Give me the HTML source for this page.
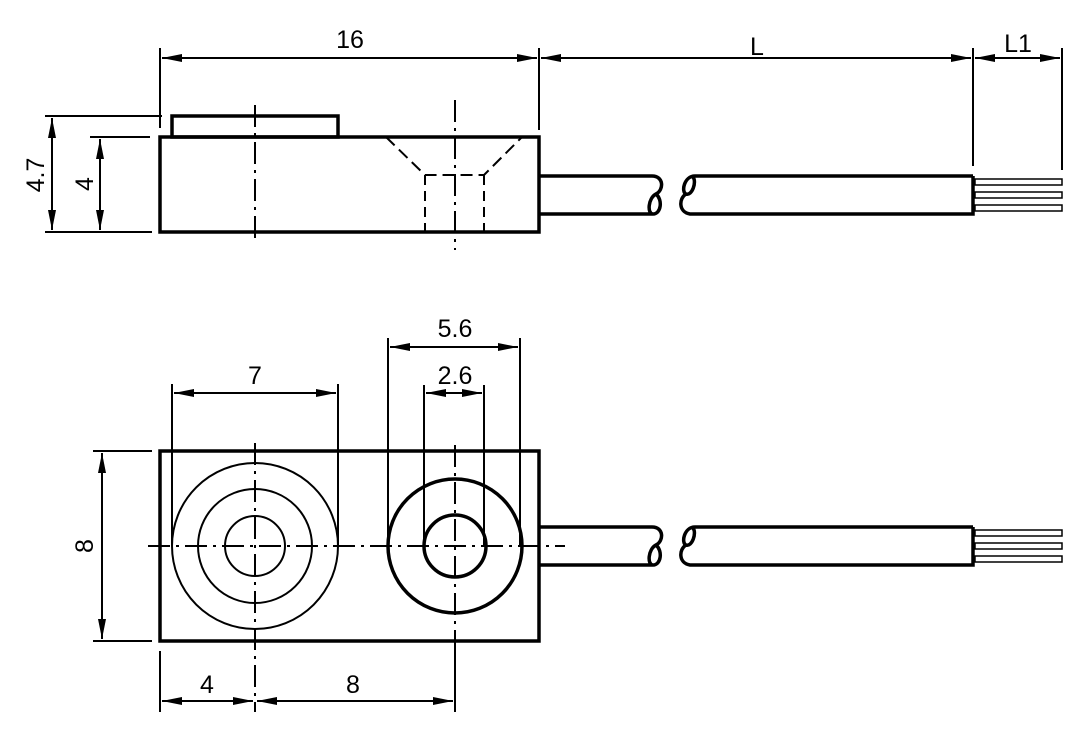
<!DOCTYPE html>
<html><head><style>
html,body{margin:0;padding:0;background:#fff;}
svg{display:block;}
text{font-family:"Liberation Sans",sans-serif;font-size:25px;fill:#000;}
</style></head><body>
<svg width="1086" height="736" viewBox="0 0 1086 736" xmlns="http://www.w3.org/2000/svg">
<defs>
<marker id="a" viewBox="0 0 20 8" refX="20" refY="4" markerWidth="20" markerHeight="8" markerUnits="userSpaceOnUse" orient="auto-start-reverse">
<path d="M0,0 L20,4 L0,8 Z" fill="#000"/></marker>
</defs>
<g fill="none" stroke="#000">
<!-- TOP VIEW -->
<g stroke-width="2">
<line x1="160" y1="48" x2="160" y2="128"/>
<line x1="539" y1="48" x2="539" y2="130"/>
<line x1="973" y1="48" x2="973" y2="166"/>
<line x1="1062" y1="48" x2="1062" y2="170"/>
<line x1="162" y1="58" x2="537" y2="58" marker-start="url(#a)" marker-end="url(#a)"/>
<line x1="541" y1="58" x2="971" y2="58" marker-start="url(#a)" marker-end="url(#a)"/>
<line x1="975" y1="58" x2="1060" y2="58" marker-start="url(#a)" marker-end="url(#a)"/>
<line x1="45" y1="116" x2="162" y2="116"/>
<line x1="45" y1="232" x2="152" y2="232"/>
<line x1="90" y1="137" x2="150" y2="137"/>
<line x1="52" y1="118" x2="52" y2="230" marker-start="url(#a)" marker-end="url(#a)"/>
<line x1="100" y1="139" x2="100" y2="230" marker-start="url(#a)" marker-end="url(#a)"/>
<line x1="255" y1="105" x2="255" y2="240" stroke-dasharray="22,6,3,6"/>
<line x1="455" y1="100" x2="455" y2="250" stroke-dasharray="22,6,3,6"/>
<path d="M386,137 L425,175 L484,175 L522,137" stroke-dasharray="12,6"/>
<line x1="425" y1="175" x2="425" y2="232" stroke-dasharray="10,6"/>
<line x1="484" y1="175" x2="484" y2="232" stroke-dasharray="10,6"/>
</g>
<g stroke-width="3.5">
<rect x="172" y="116" width="166" height="21"/>
<rect x="160" y="137" width="379" height="95"/>
<path d="M539,176 L652,176 C664,176 664,190 656,194 C648,198 647,214 653,214 C661,214 663,200 656,194 M539,214 L653,214"/>
<path d="M973,176 L695,176 C684,176 681,192 686,194 C692,196 697,182 693,177 M686,194 C679,198 678,212 690,214 L973,214 L973,176"/>
</g>
<g stroke-width="1.5">
<rect x="975" y="179" width="87" height="6"/>
<rect x="975" y="192" width="87" height="6"/>
<rect x="975" y="205" width="87" height="6"/>
</g>
<!-- BOTTOM VIEW -->
<g stroke-width="2">
<line x1="172" y1="384" x2="172" y2="546"/>
<line x1="338" y1="384" x2="338" y2="546"/>
<line x1="388" y1="338" x2="388" y2="546"/>
<line x1="520" y1="338" x2="520" y2="546"/>
<line x1="424" y1="385" x2="424" y2="546"/>
<line x1="484" y1="385" x2="484" y2="546"/>
<line x1="174" y1="393" x2="336" y2="393" marker-start="url(#a)" marker-end="url(#a)"/>
<line x1="390" y1="347" x2="518" y2="347" marker-start="url(#a)" marker-end="url(#a)"/>
<line x1="426" y1="393" x2="482" y2="393" marker-start="url(#a)" marker-end="url(#a)"/>
<line x1="93" y1="451" x2="152" y2="451"/>
<line x1="93" y1="641" x2="152" y2="641"/>
<line x1="102" y1="453" x2="102" y2="639" marker-start="url(#a)" marker-end="url(#a)"/>
<line x1="160" y1="651" x2="160" y2="712"/>
<line x1="455" y1="651" x2="455" y2="712"/>
<line x1="162" y1="701" x2="253" y2="701" marker-start="url(#a)" marker-end="url(#a)"/>
<line x1="257" y1="701" x2="453" y2="701" marker-start="url(#a)" marker-end="url(#a)"/>
<line x1="148" y1="546" x2="565" y2="546" stroke-dasharray="22,6,3,6"/>
<line x1="255" y1="443" x2="255" y2="712" stroke-dasharray="22,6,3,6"/>
<line x1="455" y1="445" x2="455" y2="712" stroke-dasharray="22,6,3,6"/>
<circle cx="255" cy="546" r="83"/>
<circle cx="255" cy="546" r="57"/>
<circle cx="255" cy="546" r="30"/>
</g>
<g stroke-width="3.5">
<rect x="160" y="451" width="379" height="190"/>
<circle cx="455" cy="546" r="67"/>
<circle cx="455" cy="546" r="31"/>
<path d="M539,527 L652,527 C664,527 664,541 656,545 C648,549 647,565 653,565 C661,565 663,551 656,545 M539,565 L653,565"/>
<path d="M973,527 L695,527 C684,527 681,543 686,545 C692,547 697,533 693,528 M686,545 C679,549 678,563 690,565 L973,565 L973,527"/>
</g>
<g stroke-width="1.5">
<rect x="975" y="530" width="87" height="6"/>
<rect x="975" y="543" width="87" height="6"/>
<rect x="975" y="556" width="87" height="6"/>
</g>
</g>
<text x="350" y="48" text-anchor="middle">16</text>
<text x="757" y="55" text-anchor="middle">L</text>
<text x="1018" y="52" text-anchor="middle">L1</text>
<text transform="translate(44,175) rotate(-90)" text-anchor="middle">4.7</text>
<text transform="translate(93,184) rotate(-90)" text-anchor="middle">4</text>
<text x="255" y="384" text-anchor="middle">7</text>
<text x="455" y="337" text-anchor="middle">5.6</text>
<text x="455" y="384" text-anchor="middle">2.6</text>
<text transform="translate(93,546) rotate(-90)" text-anchor="middle">8</text>
<text x="207" y="693" text-anchor="middle">4</text>
<text x="353" y="693" text-anchor="middle">8</text>
</svg>
</body></html>
